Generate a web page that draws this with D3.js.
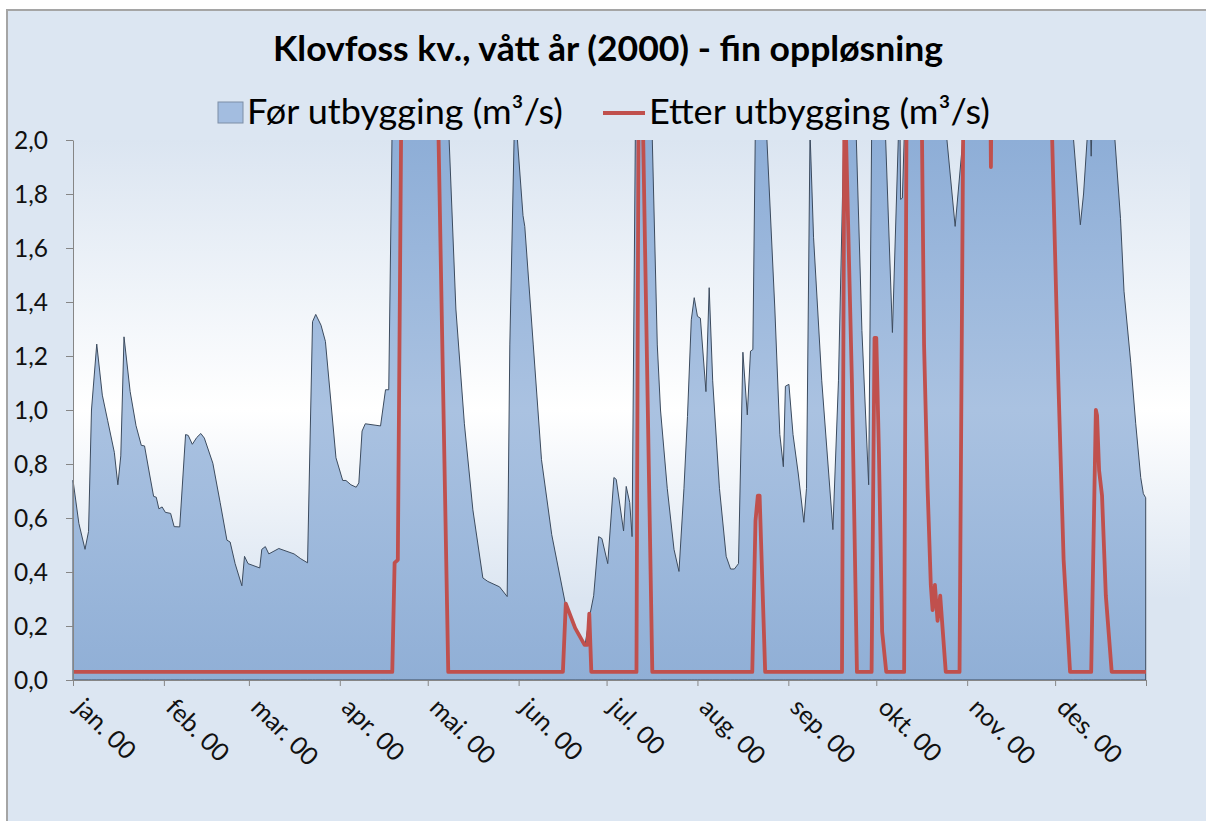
<!DOCTYPE html>
<html><head><meta charset="utf-8">
<script src="https://cdn.jsdelivr.net/npm/d3@7"></script>
<style>
html,body{margin:0;padding:0;background:#ffffff;}
svg{display:block;font-family:Lato,"Open Sans",sans-serif;}
</style>
</head><body>
<svg id="chart" width="1206" height="821"></svg>
<script>
// ---------------- data ----------------
const chartTitle = "Klovfoss kv., vått år (2000) - fin oppløsning";
const seriesNames = ["Før utbygging (m³/s)", "Etter utbygging (m³/s)"];
const monthLabels = ["jan. 00","feb. 00","mar. 00","apr. 00","mai. 00","jun. 00",
                     "jul. 00","aug. 00","sep. 00","okt. 00","nov. 00","des. 00"];
const yTicks = [0,0.2,0.4,0.6,0.8,1.0,1.2,1.4,1.6,1.8,2.0];
const yTickLabels = ["0,0","0,2","0,4","0,6","0,8","1,0","1,2","1,4","1,6","1,8","2,0"];

// [day of year (0 = 1 Jan 2000), flow m³/s] — values above 2.0 run off the plot
const beforeFlow = [
 [0,0.74],[2,0.58],[4.1,0.484],[5.3,0.55],[6.3,1.0],[8.1,1.244],[10,1.055],[11.8,0.962],
 [14.1,0.843],[15.3,0.723],[16.3,0.83],[17.4,1.271],[19.5,1.068],[21.5,0.942],[23.3,0.869],
 [24.4,0.867],[26.1,0.763],[27.5,0.68],[28.4,0.677],[29.3,0.634],[30.4,0.641],[31.5,0.621],
 [33.3,0.617],[34.5,0.568],[36.4,0.567],[38.4,0.909],[39.3,0.906],[40.7,0.873],[42.2,0.898],
 [43.6,0.913],[44.8,0.896],[47.7,0.803],[50.2,0.657],[52.5,0.518],[53.6,0.511],[55.3,0.431],
 [57.6,0.349],[58.5,0.458],[59.7,0.431],[63.7,0.415],[64.4,0.484],[65.6,0.494],[66.8,0.467],
 [70.2,0.487],[75.4,0.467],[77.7,0.449],[80,0.434],[81.7,1.327],[82.8,1.354],[84.6,1.314],
 [86.1,1.254],[89.7,0.823],[92,0.739],[93.1,0.739],[94.8,0.723],[96.6,0.714],[97.5,0.73],
 [98.6,0.922],[99.7,0.949],[104.9,0.941],[106.6,1.075],[107.7,1.075],[108.8,2.0],[109.2,2.6],
 [127.9,2.6],[128.3,2.0],[130.6,1.374],[133.5,0.949],[136.4,0.63],[139.8,0.378],[141.5,0.365],
 [145.5,0.345],[148.1,0.309],[149,1.241],[150.6,2.08],[151.6,2.0],[153.5,1.72],[154.1,1.68],
 [157,1.241],[159.8,0.816],[163.3,0.538],[167.9,0.285],[171.3,0.186],[174.7,0.133],[176.4,0.246],
 [177.6,0.312],[179.3,0.531],[180.4,0.524],[182.4,0.431],[184.5,0.75],[185.3,0.743],[187.8,0.552],
 [188.7,0.717],[189.9,0.657],[190.7,0.531],[191.8,2.0],[192.2,2.6],[197.2,2.6],[197.6,2.0],
 [199.3,1.241],[200.4,1.0],[202.7,0.71],[205,0.484],[206.7,0.402],[208.4,0.71],[209.6,0.976],
 [210.9,1.334],[211.9,1.416],[213,1.347],[214,1.34],[215.9,1.068],[217,1.453],[218.2,1.108],
 [220.5,0.71],[222.8,0.458],[224.3,0.411],[225.6,0.411],[227,0.431],[228.5,1.214],[230,0.982],
 [231.1,1.218],[231.9,1.224],[232.7,2.0],[233.1,2.6],[236.3,2.6],[236.7,2.0],[239.4,1.374],
 [241.1,0.909],[242.3,0.79],[243,1.088],[244.2,1.095],[245.6,0.909],[247.4,0.763],[249.3,0.584],
 [250.2,0.71],[251.4,2.03],[252.6,1.64],[255.4,1.108],[259.2,0.557],[261.1,1.108],[262.9,2.0],
 [263.3,2.6],[266.8,2.6],[267.2,2.0],[269.1,1.294],[271.4,0.723],[272.4,2.0],[272.8,2.6],
 [276.8,2.6],[277.2,2.0],[279.5,1.287],[281.5,2.0],[281.9,2.3],[282.3,1.78],[282.9,1.785],
 [283.5,2.0],[283.9,2.6],[297.7,2.6],[298.1,2.0],[300.9,1.68],[303.5,2.0],[303.9,2.6],
 [340.9,2.6],[341.3,2.0],[343.6,1.686],[344.7,1.8],[345.9,2.0],[346.4,2.3],[347.3,1.94],
 [348.2,2.3],[355,2.6],[355.4,2.0],[357.3,1.71],[358.5,1.44],[360.8,1.175],[362.5,0.949],
 [364.2,0.75],[365.1,0.69],[365.9,0.675]
];

const afterFlow = [
 [0,0.03],[108.9,0.03],[109.7,0.434],[110.8,0.445],[111.9,2.0],[112.2,2.4],[124.4,2.4],
 [124.7,2.0],[128,0.03],[167.1,0.03],[168.1,0.283],[171.3,0.192],[174.5,0.13],[175.5,0.13],
 [176.1,0.246],[176.8,0.03],[192.2,0.03],[193,2.4],[194.2,2.4],[194.5,2.0],[197.6,0.03],
 [231.7,0.03],[232.8,0.59],[233.6,0.683],[234.2,0.683],[236.1,0.03],[262.3,0.03],[263.2,2.3],
 [263.7,2.0],[265.7,1.1],[267.4,0.03],[272.4,0.03],[273.4,1.267],[274,1.267],[274.9,0.843],
 [276,0.179],[277.4,0.03],[283.5,0.03],[284.4,2.3],[289.2,2.3],[289.6,2.0],[290.3,1.24],
 [291.5,0.71],[292.6,0.352],[293.2,0.259],[294,0.352],[294.9,0.219],[295.8,0.312],[297.7,0.03],
 [302.4,0.03],[303.8,2.3],[312.8,2.3],[313.1,1.9],[313.4,2.3],[333.7,2.3],[334,2.0],
 [336.1,1.108],[337.9,0.445],[340.1,0.03],[347.3,0.03],[348.9,1.0],[349.3,0.98],[350,0.776],
 [351,0.683],[352.3,0.312],[354.3,0.03],[366,0.03]
];

// ---------------- drawing ----------------
const svg = d3.select("#chart");
const t0 = Date.UTC(2000,0,1), t1 = Date.UTC(2001,0,1);
const toDate = d => new Date(t0 + d*864e5);
const x = d3.scaleUtc().domain([new Date(t0), new Date(t1)]).range([73,1146]);
const y = d3.scaleLinear().domain([0,2]).range([680,140]);

const defs = svg.append("defs");
const bg = defs.append("linearGradient").attr("id","plotBg")
  .attr("gradientUnits","userSpaceOnUse").attr("x1",0).attr("x2",0).attr("y1",140).attr("y2",680);
bg.append("stop").attr("offset","0").attr("stop-color","#dbe5f1");
bg.append("stop").attr("offset","0.5").attr("stop-color","#ffffff");
bg.append("stop").attr("offset","0.85").attr("stop-color","#dbe5f1");
bg.append("stop").attr("offset","1").attr("stop-color","#dbe5f1");

const ag = defs.append("linearGradient").attr("id","areaFill")
  .attr("gradientUnits","userSpaceOnUse").attr("x1",0).attr("x2",0).attr("y1",140).attr("y2",680);
ag.append("stop").attr("offset","0").attr("stop-color","#8eaed7");
ag.append("stop").attr("offset","0.5").attr("stop-color","#aac2e1");
ag.append("stop").attr("offset","1").attr("stop-color","#90afd6");

defs.append("clipPath").attr("id","plotClip").append("rect")
  .attr("x",72).attr("y",140).attr("width",1075).attr("height",541);

// chart background and border
svg.append("rect").attr("x",7).attr("y",10).attr("width",1210).attr("height",830)
  .attr("fill","#dce6f2").attr("stroke","#a5a5a5").attr("stroke-width",2);

// plot area background
svg.append("rect").attr("x",73).attr("y",140).attr("width",1117).attr("height",540)
  .attr("fill","url(#plotBg)");

const g = svg.append("g").attr("clip-path","url(#plotClip)");

const area = d3.area()
  .x(d => x(toDate(d[0])))
  .y0(y(0))
  .y1(d => y(d[1]));
g.append("path").datum(beforeFlow).attr("d",area)
  .attr("fill","url(#areaFill)").attr("stroke","#3c4b5e").attr("stroke-width",1)
  .attr("stroke-linejoin","round");

const line = d3.line().x(d => x(toDate(d[0]))).y(d => y(d[1]));
g.append("path").datum(afterFlow).attr("d",line)
  .attr("fill","none").attr("stroke","#c0504d").attr("stroke-width",3.8)
  .attr("stroke-linejoin","round");

// y axis
const yAxis = svg.append("g").attr("transform","translate(73,0)")
  .call(d3.axisLeft(y).tickValues(yTicks).tickFormat((d,i)=>yTickLabels[i])
        .tickSize(7).tickSizeOuter(0).tickPadding(18));
yAxis.select(".domain").attr("stroke","#868686");
yAxis.selectAll(".tick line").attr("stroke","#868686");
yAxis.selectAll("text").attr("font-size",24.5).attr("fill","#111")
  .attr("font-family","Lato, sans-serif").attr("dy","0.36em");

// x axis
const monthTicks = d3.utcMonth.range(new Date(t0), new Date(t1 + 1));
const xAxis = svg.append("g").attr("transform","translate(0,680)")
  .call(d3.axisBottom(x).tickValues(monthTicks).tickFormat((d,i)=>monthLabels[i] || "")
        .tickSize(6).tickSizeOuter(0));
xAxis.select(".domain").attr("stroke","#868686");
xAxis.selectAll(".tick line").attr("stroke","#868686");
xAxis.selectAll("text").attr("font-size",25).attr("fill","#111")
  .attr("font-family","Lato, sans-serif")
  .attr("x",null).attr("y",null).attr("dy",null)
  .attr("text-anchor","start")
  .attr("transform","translate(0,29) rotate(45)");

// title
svg.append("text").attr("x",608).attr("y",61).attr("text-anchor","middle")
  .attr("font-size",34).attr("font-weight","bold").attr("fill","#000")
  .attr("textLength",670).attr("lengthAdjust","spacingAndGlyphs")
  .text(chartTitle);

// legend
svg.append("rect").attr("x",218).attr("y",102).attr("width",25).attr("height",21)
  .attr("fill","#a3bde0").attr("stroke","#7d8ea6").attr("stroke-width",1);
svg.append("text").attr("x",247).attr("y",124).attr("font-size",34).attr("fill","#000")
  .attr("textLength",316).attr("lengthAdjust","spacingAndGlyphs").text(seriesNames[0]);
svg.append("line").attr("x1",603).attr("x2",645).attr("y1",113).attr("y2",113)
  .attr("stroke","#c0504d").attr("stroke-width",4);
svg.append("text").attr("x",649).attr("y",124).attr("font-size",34).attr("fill","#000")
  .attr("textLength",341).attr("lengthAdjust","spacingAndGlyphs").text(seriesNames[1]);
</script>
</body></html>
